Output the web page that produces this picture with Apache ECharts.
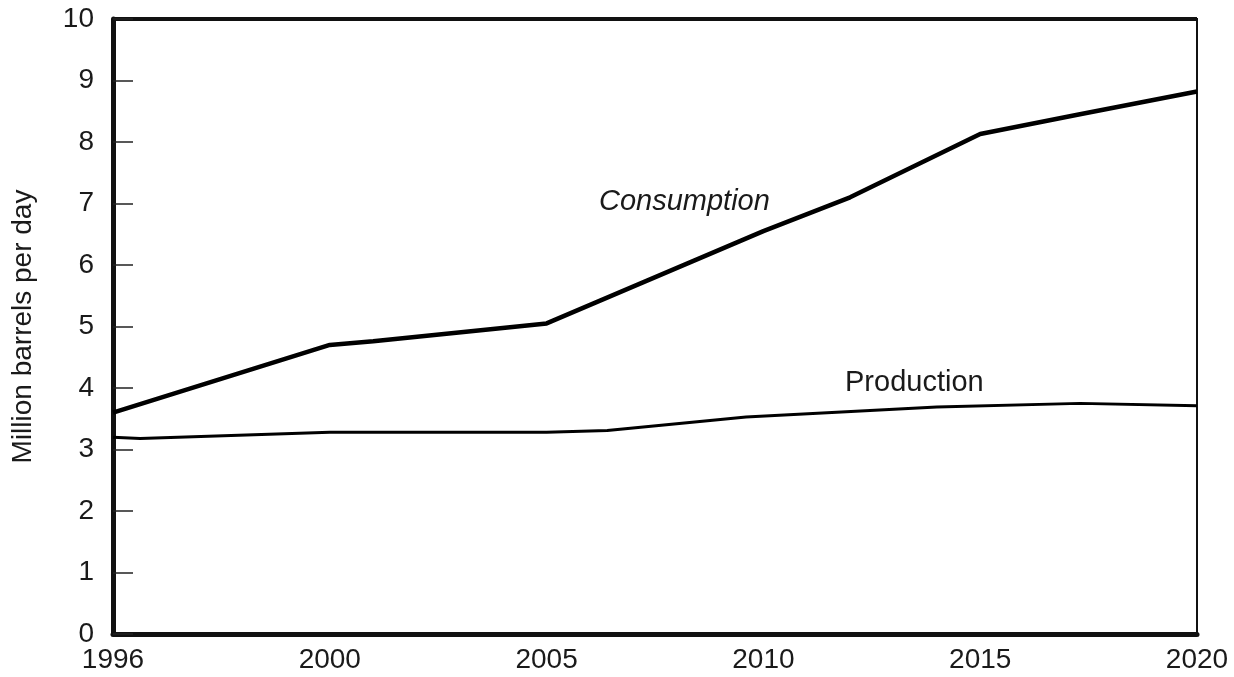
<!DOCTYPE html>
<html>
<head>
<meta charset="utf-8">
<script src="https://cdn.jsdelivr.net/npm/echarts@6/dist/echarts.min.js"></script>
<style>html,body{margin:0;padding:0;background:#fff;}#c{width:1234px;height:677px;}</style>
</head>
<body>
<div id="c"></div>
<script>
// Tick labels on the x axis (equally spaced in the original figure)
const xTickLabels = ['1996', '2000', '2005', '2010', '2015', '2020'];
const xTickYears = [1996, 2000, 2005, 2010, 2015, 2020];

// Consumption (million barrels per day)
const consumptionYears  = [1996, 2000, 2001, 2005, 2010, 2012, 2015, 2017.3, 2020];
const consumptionValues = [3.6, 4.7, 4.76, 5.05, 6.55, 7.1, 8.13, 8.45, 8.82];

// Production (million barrels per day)
const productionYears  = [1996, 1996.5, 2000, 2005, 2006.4, 2009.6, 2011.8, 2014, 2017.3, 2020];
const productionValues = [3.2, 3.18, 3.28, 3.28, 3.31, 3.53, 3.61, 3.69, 3.75, 3.71];

const yTicks = [0,1,2,3,4,5,6,7,8,9,10];

// map a year onto the equally spaced tick positions of the original axis
function yearToPos(y) {
  for (let i = 0; i < xTickYears.length - 1; i++) {
    const a = xTickYears[i], b = xTickYears[i + 1];
    if (y <= b) return i + (y - a) / (b - a);
  }
  return xTickYears.length - 1;
}
const consData = consumptionYears.map((y, i) => [yearToPos(y), consumptionValues[i]]);
const prodData = productionYears.map((y, i) => [yearToPos(y), productionValues[i]]);

const chart = echarts.init(document.getElementById('c'));
const font = 'Liberation Sans, Arial, Helvetica, sans-serif';
chart.setOption({
  animation: false,
  backgroundColor: '#fff',
  grid: { left: 113, right: 37, top: 19, bottom: 43, show: true, borderColor: '#111', borderWidth: 2,
    containLabel: false, outerBoundsMode: 'none' },
  xAxis: {
    type: 'value', min: 0, max: xTickLabels.length - 1, interval: 1,
    axisLine: { show: true, lineStyle: { color: '#111', width: 5 } },
    axisTick: { show: false },
    splitLine: { show: false },
    axisLabel: { color: '#1a1a1a', fontSize: 28, fontFamily: font, margin: 12,
      formatter: v => xTickLabels[Math.round(v)] }
  },
  yAxis: {
    type: 'value', min: yTicks[0], max: yTicks[yTicks.length - 1], interval: 1,
    name: 'Million barrels per day', nameLocation: 'middle', nameGap: 76,
    nameTextStyle: { color: '#1a1a1a', fontSize: 28, fontFamily: font },
    axisLine: { show: true, lineStyle: { color: '#111', width: 5 } },
    axisTick: { show: true, inside: true, length: 20, lineStyle: { color: '#222', width: 1.5 } },
    splitLine: { show: false },
    axisLabel: { color: '#1a1a1a', fontSize: 28, fontFamily: font, margin: 19 }
  },
  series: [
    { name: 'Consumption', type: 'line', data: consData, symbol: 'none', smooth: false,
      lineStyle: { color: '#000', width: 4.5 } },
    { name: 'Production', type: 'line', data: prodData, symbol: 'none', smooth: false,
      lineStyle: { color: '#000', width: 3 } }
  ],
  graphic: [
    { type: 'text', left: 599, top: 187, style: { text: 'Consumption', font: 'italic 29px ' + font, fill: '#1a1a1a' } },
    { type: 'text', left: 845, top: 368, style: { text: 'Production', font: '29px ' + font, fill: '#1a1a1a' } },
    // thicker top border as in the original
    { type: 'rect', shape: { x: 113, y: 17, width: 1084, height: 4 }, style: { fill: '#111' } }
  ]
});
</script>
</body>
</html>
